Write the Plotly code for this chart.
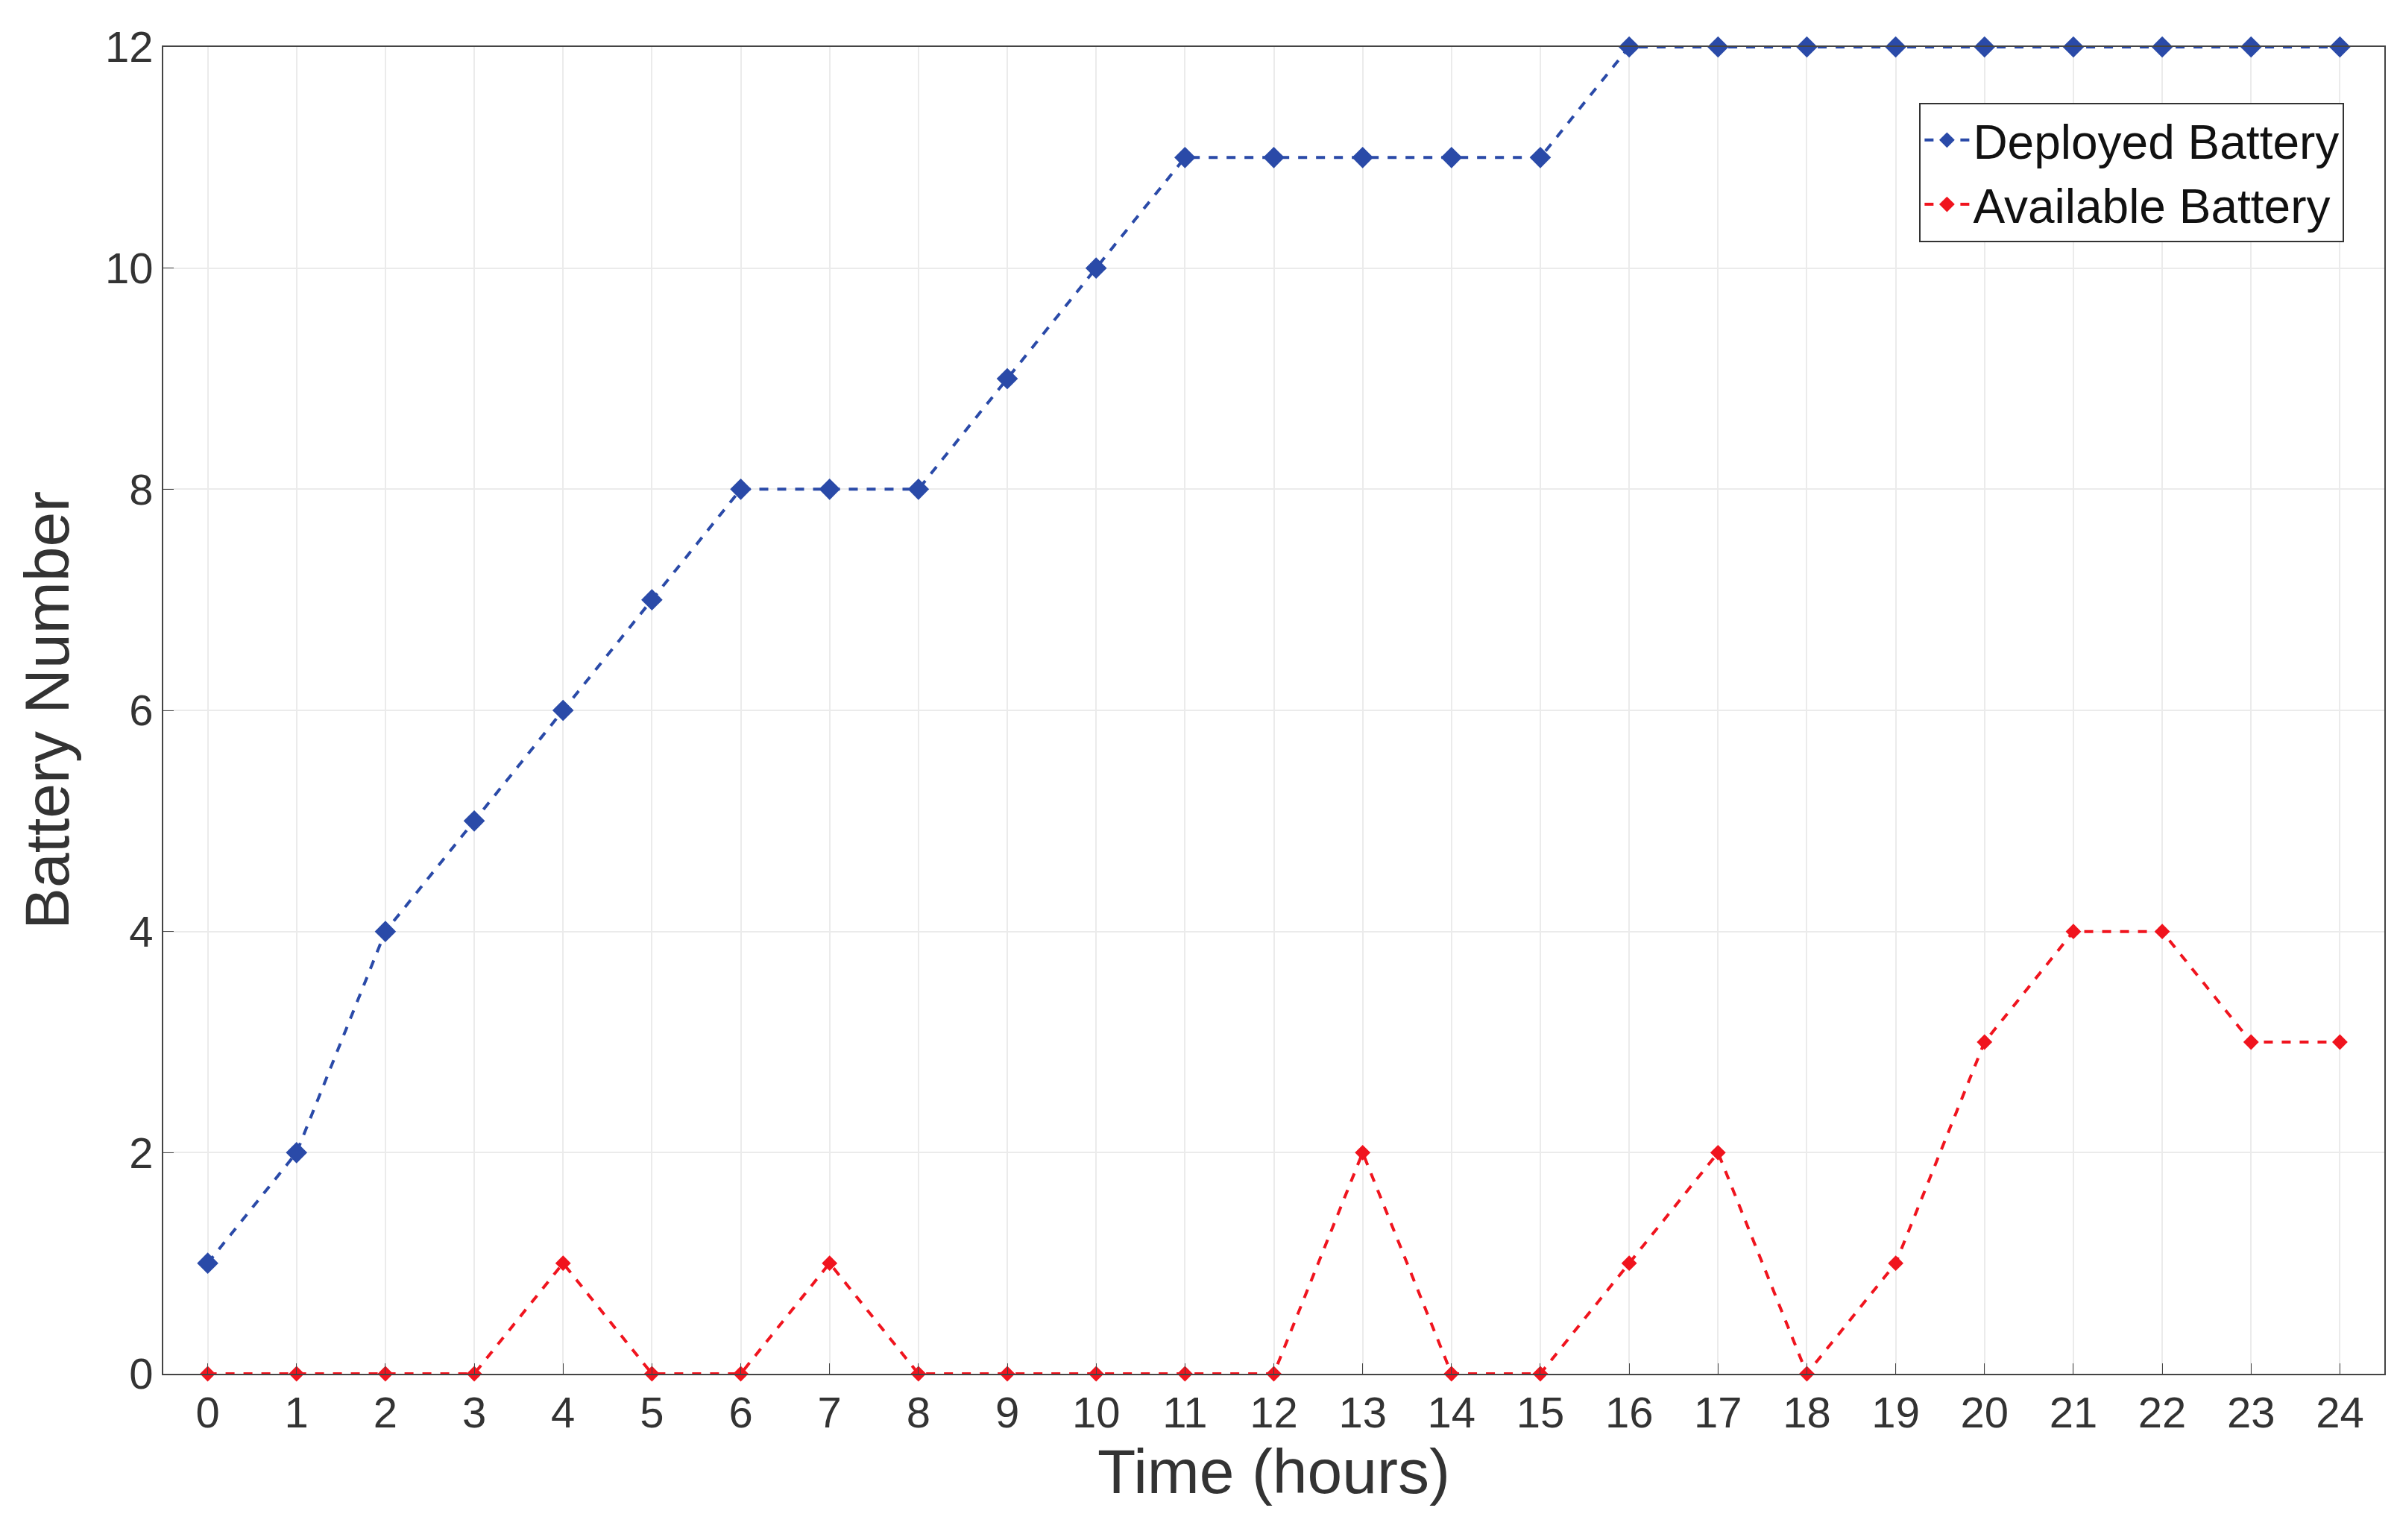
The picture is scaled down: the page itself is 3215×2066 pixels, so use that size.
import plotly.graph_objects as go

hours = list(range(25))
deployed = [1,2,4,5,6,7,8,8,8,9,10,11,11,11,11,11,12,12,12,12,12,12,12,12,12]
available = [0,0,0,0,1,0,0,1,0,0,0,0,0,2,0,0,1,2,0,1,3,4,4,3,3]

fig = go.Figure()
fig.add_trace(go.Scatter(x=hours, y=deployed, mode="lines+markers", name="Deployed Battery",
    cliponaxis=False,
    line=dict(color="#2a4aa8", width=4, dash="dash"),
    marker=dict(symbol="diamond", size=22, color="#2a4aa8")))
fig.add_trace(go.Scatter(x=hours, y=available, mode="lines+markers", name="Available Battery",
    cliponaxis=False,
    line=dict(color="#f0141e", width=4, dash="dash"),
    marker=dict(symbol="diamond", size=16, color="#f0141e")))

axis_common = dict(showgrid=True, gridcolor="#ebebeb", gridwidth=2, showline=True, linecolor="#444",
                   linewidth=2, mirror=True, ticks="inside", ticklen=14, tickcolor="#444",
                   tickfont=dict(size=58, color="#333"), zeroline=False)
fig.update_xaxes(range=[-0.5, 24.5], tickmode="array", tickvals=hours, ticktext=[str(h) for h in hours],
                 title=dict(text="Time (hours)", font=dict(size=84, color="#333"), standoff=10), **axis_common)
fig.update_yaxes(range=[0, 12], tickvals=[0,2,4,6,8,10,12],
                 title=dict(text="Battery Number", font=dict(size=84, color="#333"), standoff=20), **axis_common)
fig.update_layout(width=3215, height=2066, plot_bgcolor="white", paper_bgcolor="white",
    font=dict(family="Liberation Sans, Arial, sans-serif"),
    margin=dict(l=211, r=25, t=55, b=231),
    legend=dict(x=0.982, y=0.958, xanchor="right", yanchor="top", bgcolor="white",
                bordercolor="#333", borderwidth=2, font=dict(size=64, color="#111"),
                itemwidth=60, tracegroupgap=0))
fig.write_html("out.html")
